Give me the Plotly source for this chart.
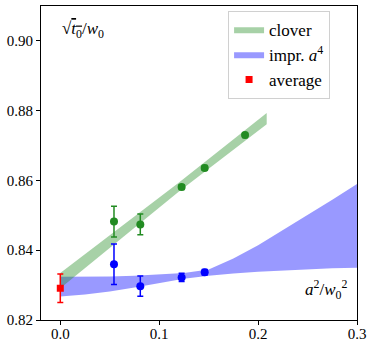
import plotly.graph_objects as go

# -----------------------------
# Data
# -----------------------------
a2 = [0.0543, 0.0809, 0.1227, 0.1460, 0.1868]

clover_y = [0.8482, 0.8474, 0.8581, 0.8636, 0.8730]
clover_err = [0.0044, 0.0030, 0.0007, 0.0007, 0.0007]

impr_x = [0.0543, 0.0809, 0.1227, 0.1460]
impr_y = [0.8360, 0.8297, 0.8322, 0.8337]
impr_err = [0.0058, 0.0029, 0.0012, 0.0008]

avg_x = [0.0]
avg_y = [0.8291]
avg_err = [0.0041]

# clover linear fit band
clover_band_x = [0.0, 0.12, 0.2087]
clover_band_lo = [0.8291, 0.8568, 0.8761]
clover_band_hi = [0.8335, 0.8594, 0.8793]

# improved a^4 fit band
impr_band_x = [0.0, 0.025, 0.05, 0.075, 0.1, 0.125, 0.15, 0.175, 0.2, 0.225, 0.25, 0.275, 0.3]
impr_band_lo = [0.8267, 0.8273, 0.8282, 0.8293, 0.8305, 0.8318, 0.8327, 0.8333, 0.8338, 0.8341, 0.8345, 0.8348, 0.8350]
impr_band_hi = [0.8324, 0.8324, 0.8325, 0.8327, 0.8330, 0.8335, 0.8345, 0.8376, 0.8414, 0.8457, 0.8501, 0.8545, 0.8590]

FONT = "Liberation Serif"

fig = go.Figure()

fig.add_trace(go.Scatter(
    x=impr_band_x + impr_band_x[::-1],
    y=impr_band_hi + impr_band_lo[::-1],
    fill="toself", mode="lines", line=dict(width=0),
    fillcolor="rgba(0,0,255,0.4)", name="impr. <i>a</i><sup>4</sup>",
    hoverinfo="skip", legendrank=2,
))
fig.add_trace(go.Scatter(
    x=clover_band_x + clover_band_x[::-1],
    y=clover_band_hi + clover_band_lo[::-1],
    fill="toself", mode="lines", line=dict(width=0),
    fillcolor="rgba(34,139,34,0.4)", name="clover",
    hoverinfo="skip", legendrank=1,
))

fig.add_trace(go.Scatter(
    x=a2, y=clover_y, mode="markers",
    marker=dict(color="forestgreen", size=8),
    error_y=dict(type="data", array=clover_err, color="forestgreen", thickness=1.5, width=3),
    showlegend=False,
))
fig.add_trace(go.Scatter(
    x=impr_x, y=impr_y, mode="markers",
    marker=dict(color="blue", size=8),
    error_y=dict(type="data", array=impr_err, color="blue", thickness=1.5, width=3),
    showlegend=False,
))
fig.add_trace(go.Scatter(
    x=avg_x, y=avg_y, mode="markers",
    marker=dict(color="red", size=7, symbol="square"),
    error_y=dict(type="data", array=avg_err, color="red", thickness=1.5, width=3),
    name="average", legendrank=3,
))

fig.add_annotation(
    x=0.06, y=0.965, xref="paper", yref="paper", xanchor="left", yanchor="top",
    text="√<span style='text-decoration:overline'><i>t</i><sub>0</sub></span>/<i>w</i><sub>0</sub>",
    showarrow=False, font=dict(family=FONT, size=17, color="black"),
)
fig.add_annotation(
    x=0.975, y=0.05, xref="paper", yref="paper", xanchor="right", yanchor="bottom",
    text="<i>a</i><sup>2</sup>/<i>w</i><sub>0</sub><sup>2</sup>",
    showarrow=False, font=dict(family=FONT, size=17, color="black"),
)

axis_common = dict(
    showgrid=False, zeroline=False, showline=True, linecolor="black", linewidth=1,
    mirror=True, ticks="outside", ticklen=4, tickcolor="black", automargin=False,
    tickfont=dict(family=FONT, size=15, color="black"),
)

fig.update_xaxes(range=[-0.0195, 0.3], tickvals=[0.0, 0.1, 0.2, 0.3],
                 ticktext=["0.0", "0.1", "0.2", "0.3"], ticklabelstandoff=-4, **axis_common)
fig.update_yaxes(range=[0.82, 0.91], tickvals=[0.82, 0.84, 0.86, 0.88, 0.90],
                 ticktext=["0.82", "0.84", "0.86", "0.88", "0.90"], **axis_common)

fig.update_layout(
    width=374, height=349,
    margin=dict(l=41, r=17, t=6, b=29),
    plot_bgcolor="white", paper_bgcolor="white",
    font=dict(family=FONT, size=15, color="black"),
    legend=dict(
        x=0.592, y=0.985, xanchor="left", yanchor="top",
        bgcolor="white", bordercolor="#d0d0d0", borderwidth=1,
        font=dict(family=FONT, size=17), itemwidth=30,
        traceorder="normal",
    ),
)

# page body has a default 8px margin; remove it so the figure sits at the corner
fig.write_html("out.html", config={"displayModeBar": False},
               post_script="document.body.style.margin='0';")
